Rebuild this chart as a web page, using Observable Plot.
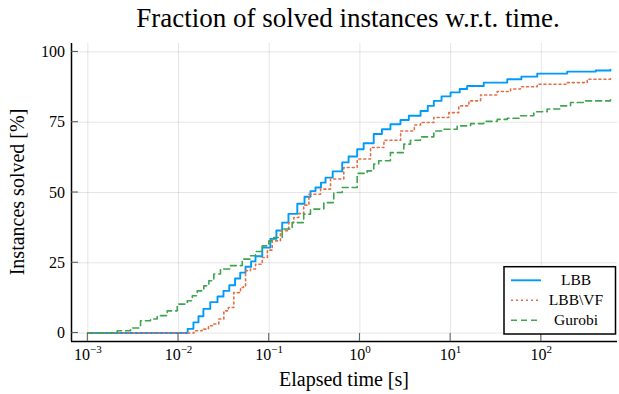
<!DOCTYPE html>
<html><head><meta charset="utf-8">
<script src="https://cdn.jsdelivr.net/npm/d3@7"></script>
<script src="https://cdn.jsdelivr.net/npm/@observablehq/plot@0.6"></script>
<style>body{margin:0;background:#fff}</style>
</head><body><div id="chart"></div>
<script>
const seriesNames = ["LBB", "LBB\\VF", "Gurobi"];
const seriesColors = ["#009AFA", "#E36F47", "#3EA44E"];

const lbbTime = [0.001, 0.0110, 0.0126, 0.0146, 0.0166, 0.0188, 0.0224, 0.0269, 0.0313, 0.0363, 0.0420, 0.0479, 0.0548, 0.0631, 0.0706, 0.0838, 0.103, 0.120, 0.139, 0.163, 0.204, 0.245, 0.285, 0.324, 0.372, 0.418, 0.501, 0.638, 0.750, 0.933, 1.10, 1.42, 1.75, 2.17, 2.80, 3.46, 4.66, 5.6, 6.53, 7.94, 9.98, 12.6, 15.2, 23.2, 42.1, 60.3, 90.2, 193, 398, 579];
const lbbSolved = [0, 0, 1.5, 3.8, 6, 8.6, 11, 13, 15, 17, 19.4, 21.5, 23.6, 25.5, 27.3, 30.4, 33.5, 36.5, 39.3, 42.4, 46, 48.5, 50.5, 51.8, 53.5, 55.3, 57.5, 60.7, 62.8, 65.4, 67.5, 70.8, 72.5, 74.3, 75.8, 77.3, 79, 80.8, 82.6, 84.2, 85.6, 86.8, 87.9, 89.1, 90.3, 91.2, 92.3, 93.0, 93.4, 93.7];

const lbbvfTime = [0.001, 0.0110, 0.0148, 0.0182, 0.0214, 0.0245, 0.0278, 0.0316, 0.0355, 0.0407, 0.0483, 0.0520, 0.0548, 0.0622, 0.0706, 0.0838, 0.0955, 0.108, 0.133, 0.164, 0.187, 0.212, 0.240, 0.274, 0.368, 0.474, 0.664, 0.933, 1.31, 1.84, 2.81, 3.98, 4.66, 6.53, 9.55, 12.3, 15.9, 21.4, 32.7, 45.8, 59.0, 90.2, 193, 321, 579];
const lbbvfSolved = [0, 0, 0.8, 1.4, 2.6, 3.2, 5, 7.9, 9.1, 14.4, 16.2, 16.5, 22.2, 22.8, 24.5, 26.9, 29.5, 32.8, 36.4, 39.3, 41.1, 42.5, 45.5, 49.4, 51.2, 54.8, 58.9, 61.9, 66, 68.6, 71.9, 74, 74.9, 76.7, 78.4, 80.8, 82.6, 84.7, 85.9, 86.8, 87.6, 88.5, 89.1, 90.3, 91.1];

const gurobiTime = [0.001, 0.00192, 0.00211, 0.00296, 0.00381, 0.00491, 0.00582, 0.00750, 0.00968, 0.0125, 0.0142, 0.0161, 0.0190, 0.0216, 0.0245, 0.0290, 0.0374, 0.0504, 0.0622, 0.0706, 0.0838, 0.0991, 0.112, 0.139, 0.179, 0.240, 0.285, 0.400, 0.515, 0.638, 0.933, 1.20, 1.42, 1.61, 2.17, 3.05, 3.61, 4.66, 6.53, 8.41, 11.8, 16.6, 23.2, 32.7, 42.1, 59.0, 82.6, 116, 163, 210, 294, 579];
const gurobiSolved = [0, 0, 0.8, 1.8, 4.4, 5, 6.2, 7.9, 10.3, 11.5, 13.3, 15, 16.8, 18.6, 21, 22.8, 24, 26.3, 27.5, 29, 31, 32.8, 34, 37, 39.3, 42.3, 44.1, 46.4, 50, 51.8, 56.8, 57.7, 60.1, 61.3, 64.2, 67.2, 68.6, 69.8, 71.9, 72.5, 73.7, 74.5, 75.3, 76, 76.4, 77.3, 78.7, 79.7, 80.8, 82, 82.6, 83.4];

const xTicks = [0.001, 0.01, 0.1, 1, 10, 100];
const yTicks = [0, 25, 50, 75, 100];
const xDomain = [Math.pow(10, -3.18), Math.pow(10, 2.84)];
const yDomain = [-3, 103];

const titleText = "Fraction of solved instances w.r.t. time.";
const xLabel = "Elapsed time [s]";
const yLabel = "Instances solved [%]";

const toRows = (ts, vs) => ts.map((t, i) => ({t, v: vs[i]}));
const seriesData = [toRows(lbbTime, lbbSolved), toRows(lbbvfTime, lbbvfSolved), toRows(gurobiTime, gurobiSolved)];
const dashes = [null, "2,3", "6,4"];
const widths = [1.9, 1.6, 1.6];

const font = "'Liberation Serif', 'DejaVu Serif', serif";
const supMinus = e => (e < 0 ? "\u2212" + (-e) : String(e));

const plot = Plot.plot({
  width: 619, height: 394,
  marginLeft: 71, marginRight: 2, marginTop: 43, marginBottom: 53,
  style: {fontFamily: font, fontSize: "16px", background: "#fff", color: "#000", overflow: "visible"},
  x: {type: "log", domain: xDomain, axis: null},
  y: {domain: yDomain, axis: null},
  marks: [
    Plot.gridX(xTicks, {stroke: "#000", strokeOpacity: 0.1, strokeWidth: 1}),
    Plot.gridY(yTicks, {stroke: "#000", strokeOpacity: 0.1, strokeWidth: 1}),
    Plot.axisX(xTicks, {tickSize: 0, tickPadding: 7, fontSize: 16, fill: "#000", label: null,
      tickFormat: d => "10^" + supMinus(Math.round(Math.log10(d)))}),
    Plot.axisY(yTicks, {tickSize: 0, tickPadding: 6.5, fontSize: 16, fill: "#000", label: null}),
    ...seriesData.map((rows, i) => Plot.line(rows, {
      x: "t", y: "v", curve: "step-after",
      stroke: seriesColors[i], strokeWidth: widths[i],
      strokeDasharray: dashes[i]
    })),
    Plot.ruleY([yDomain[0]], {stroke: "#000", strokeWidth: 1.5}),
    Plot.ruleX([xDomain[0]], {stroke: "#000", strokeWidth: 1.5})
  ]
});

const ns = "http://www.w3.org/2000/svg";
plot.querySelectorAll('g[aria-label="x-axis tick label"] text').forEach(t => {
  const [b, e] = t.textContent.split("^");
  t.textContent = "";
  const t1 = document.createElementNS(ns, "tspan"); t1.textContent = b; t.appendChild(t1);
  const t2 = document.createElementNS(ns, "tspan");
  t2.setAttribute("dy", "-6.5"); t2.setAttribute("font-size", "11"); t2.textContent = e;
  t.appendChild(t2);
});

const sx = plot.scale("x"), sy = plot.scale("y");
const svg = d3.select(plot);
const [fx0, fx1] = sx.range, [fy0, fy1] = sy.range; // fy0 bottom
const tg = svg.append("g").attr("stroke", "#555").attr("stroke-width", 1);
xTicks.forEach(v => {
  const x = sx.apply(v);
  tg.append("line").attr("x1", x).attr("x2", x).attr("y1", fy0).attr("y2", fy0 - 8);
});
yTicks.forEach(v => {
  const y = sy.apply(v);
  tg.append("line").attr("x1", fx0).attr("x2", fx0 + 7).attr("y1", y).attr("y2", y);
});

const cx = (fx0 + fx1) / 2, cy = (fy0 + fy1) / 2;
svg.append("text").attr("x", cx + 4).attr("y", 27).attr("text-anchor", "middle")
  .attr("font-size", 27).attr("font-family", font).attr("fill", "#000").text(titleText);
svg.append("text").attr("x", cx).attr("y", 386).attr("text-anchor", "middle")
  .attr("font-size", 20).attr("font-family", font).attr("fill", "#000").text(xLabel);
svg.append("text").attr("transform", `translate(23.5,${cy}) rotate(-90)`).attr("text-anchor", "middle")
  .attr("font-size", 20).attr("font-family", font).attr("fill", "#000").text(yLabel);

const lg = svg.append("g");
lg.append("rect").attr("x", 504).attr("y", 266.7).attr("width", 111.5).attr("height", 67.3)
  .attr("fill", "#fff").attr("stroke", "#000").attr("stroke-width", 1.5);
seriesNames.forEach((name, i) => {
  const y = 280.3 + i * 20;
  lg.append("line").attr("x1", 511).attr("x2", 541).attr("y1", y).attr("y2", y)
    .attr("stroke", seriesColors[i]).attr("stroke-width", widths[i])
    .attr("stroke-dasharray", dashes[i]);
  lg.append("text").attr("x", 576).attr("y", y + 4.5).attr("text-anchor", "middle")
    .attr("font-size", 15.5).attr("font-family", font).attr("fill", "#000").text(name);
});

document.getElementById("chart").appendChild(plot);
</script>
</body></html>
